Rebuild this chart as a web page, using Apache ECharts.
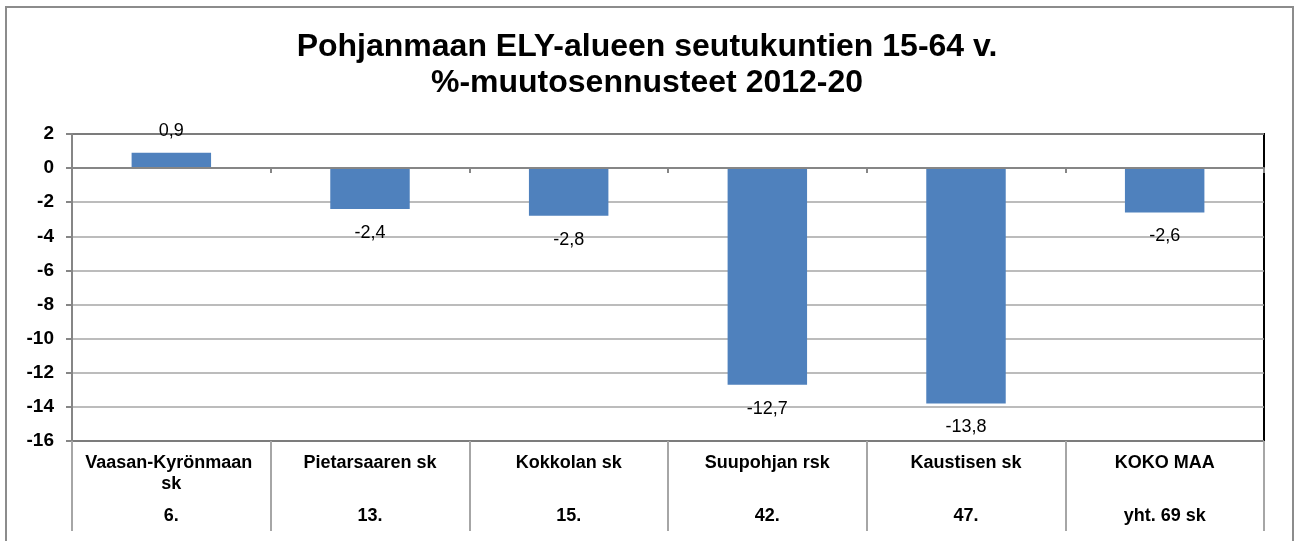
<!DOCTYPE html>
<html>
<head>
<meta charset="utf-8">
<script src="https://cdn.jsdelivr.net/npm/echarts@6/dist/echarts.min.js"></script>
<style>
  html, body { margin: 0; padding: 0; background: #fff; }
  #chart { width: 1294px; height: 541px; }
</style>
</head>
<body>
<div id="chart"></div>
<script>
// seutukunnat ja niiden sijat
const categories = ['Vaasan-Kyrönmaan sk', 'Pietarsaaren sk', 'Kokkolan sk', 'Suupohjan rsk', 'Kaustisen sk', 'KOKO MAA'];
const ranks = ['6.', '13.', '15.', '42.', '47.', 'yht. 69 sk'];
const changes = [0.9, -2.4, -2.8, -12.7, -13.8, -2.6];

const FONT = '"Liberation Sans", Arial, sans-serif';
const chart = echarts.init(document.getElementById('chart'));

const barData = changes.map(v => ({
  value: v,
  label: { position: v >= 0 ? 'top' : 'bottom', distance: v >= 0 ? 13 : 15 }
}));

const option = {
  animation: false,
  title: {
    text: 'Pohjanmaan ELY-alueen seutukuntien 15-64 v.\n%-muutosennusteet 2012-20',
    left: 'center',
    top: 29,
    padding: 0,
    textStyle: {
      fontFamily: FONT,
      fontSize: 32,
      fontWeight: 'bold',
      color: '#000',
      lineHeight: 36
    }
  },
  graphic: [{
    type: 'rect',
    shape: { x: 6, y: 7, width: 1287, height: 600 },
    style: { fill: 'none', stroke: '#8c8c8c', lineWidth: 2 },
    silent: true,
    z: -1
  }],
  grid: {
    left: 72, right: 30, top: 134, bottom: 100,
    show: true,
    borderColor: '#000',
    borderWidth: 2
  },
  xAxis: [
    {
      type: 'category',
      data: categories,
      position: 'bottom',
      axisLine: { show: false, onZero: false },
      axisTick: { show: true, interval: 0, length: 90, lineStyle: { color: '#a6a6a6', width: 2 } },
      axisLabel: {
        interval: 0,
        margin: 12,
        fontFamily: FONT,
        fontSize: 18,
        fontWeight: 'bold',
        color: '#000',
        lineHeight: 21,
        width: 185,
        overflow: 'break'
      },
      splitLine: { show: false }
    },
    {
      type: 'category',
      data: ranks,
      position: 'bottom',
      axisLine: { show: false, onZero: false },
      axisTick: { show: false },
      axisLabel: {
        interval: 0,
        margin: 65,
        fontFamily: FONT,
        fontSize: 18,
        fontWeight: 'bold',
        color: '#000',
        lineHeight: 21
      },
      splitLine: { show: false }
    },
    {
      type: 'category',
      data: categories,
      position: 'bottom',
      axisLine: { show: true, onZero: true, lineStyle: { color: '#868686', width: 2 } },
      axisTick: { show: true, interval: 0, length: 5, lineStyle: { color: '#868686', width: 2 } },
      axisLabel: { show: false },
      splitLine: { show: false },
      z: 5
    }
  ],
  yAxis: {
    type: 'value',
    min: -16,
    max: 2,
    interval: 2,
    axisLine: { show: true, lineStyle: { color: '#868686', width: 2 } },
    axisTick: { show: true, length: 6, lineStyle: { color: '#868686', width: 2 } },
    axisLabel: {
      margin: 18,
      fontFamily: FONT,
      fontSize: 19,
      fontWeight: 'bold',
      color: '#000'
    },
    splitLine: { show: true, lineStyle: { color: '#a6a6a6', width: 1.5 } }
  },
  series: [{
    type: 'bar',
    xAxisIndex: 0,
    data: barData,
    barWidth: '40%',
    itemStyle: { color: '#4f81bd' },
    label: {
      show: true,
      fontFamily: FONT,
      fontSize: 18,
      color: '#000',
      formatter: p => String(p.value).replace('.', ',')
    }
  }]
};

chart.setOption(option);
</script>
</body>
</html>
